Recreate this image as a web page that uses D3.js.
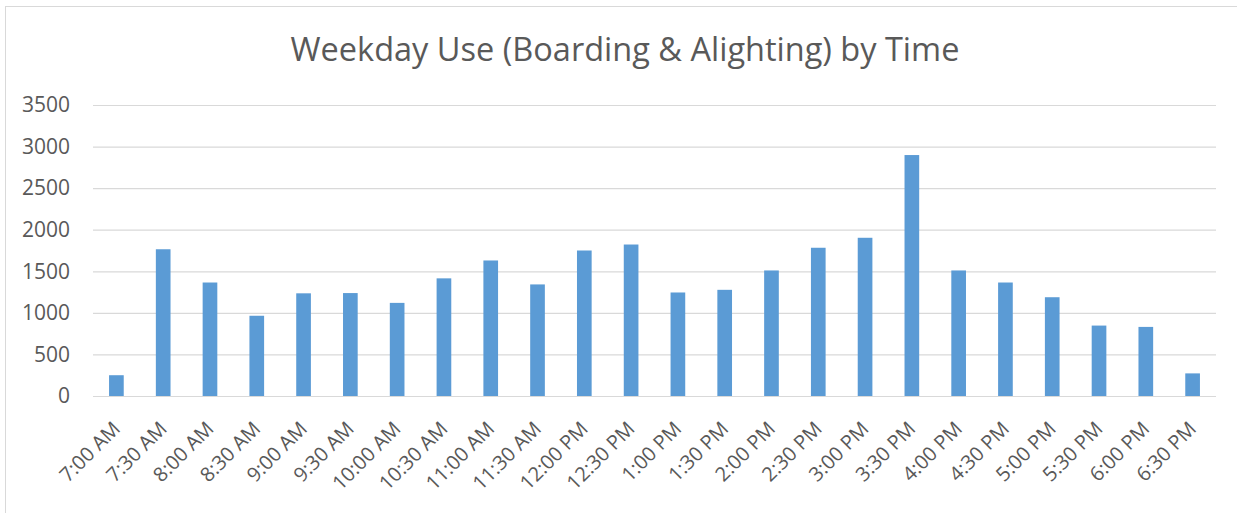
<!DOCTYPE html>
<html>
<head>
<meta charset="utf-8">
<script src="https://cdn.jsdelivr.net/npm/d3@7"></script>
<style>
  html, body { margin: 0; padding: 0; background: #fff; }
  svg { display: block; }
</style>
</head>
<body>
<svg id="chart" width="1237" height="513"></svg>
<script>
const title = "Weekday Use (Boarding & Alighting) by Time";
const categories = ["7:00 AM","7:30 AM","8:00 AM","8:30 AM","9:00 AM","9:30 AM","10:00 AM","10:30 AM","11:00 AM","11:30 AM","12:00 PM","12:30 PM","1:00 PM","1:30 PM","2:00 PM","2:30 PM","3:00 PM","3:30 PM","4:00 PM","4:30 PM","5:00 PM","5:30 PM","6:00 PM","6:30 PM"];
const values = [250,1765,1365,965,1235,1238,1120,1415,1630,1342,1750,1822,1245,1277,1510,1783,1903,2898,1510,1365,1188,847,831,272];
const yTicks = [0,500,1000,1500,2000,2500,3000,3500];

const FONT = "'Open Sans', 'DejaVu Sans', sans-serif";
const TEXT = "#595959";
const GRID = "#D9D9D9";
const BAR = "#5B9BD5";

const svg = d3.select("#chart");

// chart frame
svg.append("rect")
  .attr("x", 5.5).attr("y", 6.5)
  .attr("width", 1300).attr("height", 600)
  .attr("fill", "#fff").attr("stroke", GRID).attr("stroke-width", 1);

const plot = { left: 93, right: 1216, top: 105, bottom: 396 };

const x = d3.scaleBand()
  .domain(categories)
  .range([plot.left, plot.right])
  .paddingInner(0.6865)
  .paddingOuter(0.6865 / 2);

const y = d3.scaleLinear()
  .domain([0, 3500])
  .range([plot.bottom, plot.top]);

// gridlines + y labels
const yAxis = d3.axisLeft(y).tickValues(yTicks).tickFormat(d3.format("d"))
  .tickSize(-(plot.right - plot.left)).tickPadding(23);
const gy = svg.append("g")
  .attr("transform", `translate(${plot.left},0)`)
  .call(yAxis);
gy.select(".domain").remove();
gy.selectAll(".tick line").attr("stroke", GRID).attr("stroke-width", 1.2);
gy.selectAll(".tick text")
  .attr("fill", TEXT)
  .style("font-family", FONT)
  .style("font-size", "21px");

// bars
svg.append("g").selectAll("rect")
  .data(values)
  .join("rect")
  .attr("x", (d, i) => x(categories[i]))
  .attr("width", x.bandwidth())
  .attr("y", d => y(d))
  .attr("height", d => y(0) - y(d))
  .attr("fill", BAR);

// baseline axis
const xAxis = d3.axisBottom(x).tickSize(0).tickPadding(0);
const gx = svg.append("g")
  .attr("transform", `translate(0,${plot.bottom})`)
  .call(xAxis);
gx.select(".domain").attr("stroke", GRID).attr("stroke-width", 1.2)
  .attr("d", `M${plot.left},0.5H${plot.right}`);
gx.selectAll(".tick text")
  .attr("fill", TEXT)
  .style("font-family", FONT)
  .style("font-size", "20px")
  .attr("text-anchor", "end")
  .attr("transform", "translate(0,29) rotate(-45)")
  .attr("dy", "0.35em")
  .attr("y", 0);

// title
svg.append("text")
  .attr("x", 625)
  .attr("y", 61)
  .attr("text-anchor", "middle")
  .attr("fill", TEXT)
  .style("font-family", FONT)
  .style("font-size", "32.5px")
  .text(title);
</script>
</body>
</html>
